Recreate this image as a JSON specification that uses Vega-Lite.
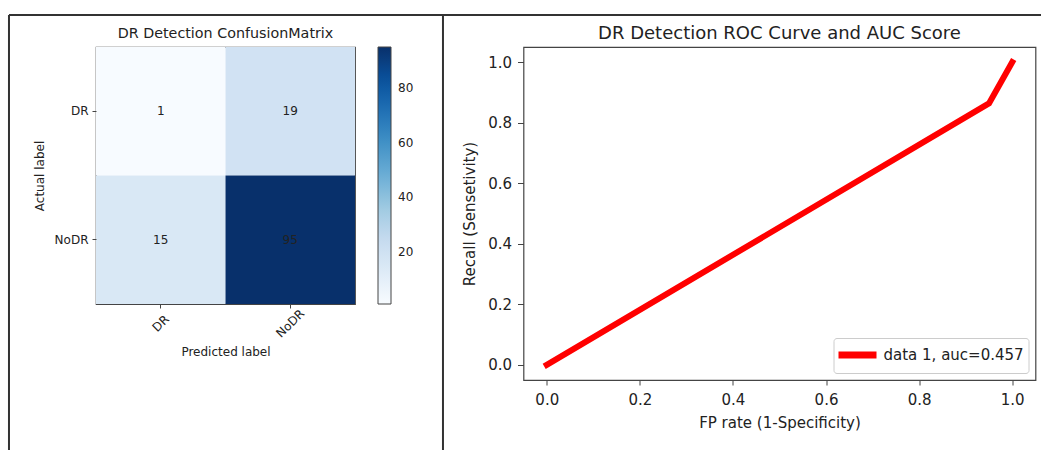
{
  "$schema": "https://vega.github.io/schema/vega-lite/v6.json",
  "background": "white",
  "padding": {"left": 7, "top": 13, "right": 0, "bottom": 0},
  "bounds": "flush",
  "spacing": 168.5,
  "config": {
    "font": "DejaVu Sans",
    "view": {"stroke": "#444", "strokeWidth": 1.2},
    "axis": {
      "domain": false,
      "grid": false,
      "labelColor": "#222",
      "titleColor": "#222",
      "tickColor": "#444",
      "titleFontWeight": "normal"
    },
    "title": {"fontWeight": "normal", "color": "#222"}
  },
  "hconcat": [
    {
      "width": 259,
      "height": 257,
      "title": {"text": "DR Detection ConfusionMatrix", "fontSize": 14.3, "offset": 6},
      "data": {
        "values": [
          {"actual": "DR", "predicted": "DR", "count": 1},
          {"actual": "DR", "predicted": "NoDR", "count": 19},
          {"actual": "NoDR", "predicted": "DR", "count": 15},
          {"actual": "NoDR", "predicted": "NoDR", "count": 95}
        ]
      },
      "encoding": {
        "x": {
          "field": "predicted",
          "type": "nominal",
          "sort": ["DR", "NoDR"],
          "scale": {"paddingInner": 0, "paddingOuter": 0},
          "axis": {
            "title": "Predicted label",
            "labelAngle": -45,
            "labelAlign": "center",
            "labelBaseline": "middle",
            "labelPadding": 15,
            "tickSize": 4,
            "labelFontSize": 12,
            "titleFontSize": 12,
            "titlePadding": 7
          }
        },
        "y": {
          "field": "actual",
          "type": "nominal",
          "sort": ["DR", "NoDR"],
          "scale": {"paddingInner": 0, "paddingOuter": 0},
          "axis": {
            "title": "Actual label",
            "labelAngle": 0,
            "tickSize": 4,
            "labelPadding": 4,
            "labelFontSize": 12,
            "titleFontSize": 12,
            "titlePadding": 8
          }
        }
      },
      "layer": [
        {
          "mark": {"type": "rect"},
          "encoding": {
            "color": {
              "field": "count",
              "type": "quantitative",
              "scale": {
                "domain": [1, 12.75, 24.5, 36.25, 48, 59.75, 71.5, 83.25, 95],
                "range": ["#f7fbff", "#deebf7", "#c6dbef", "#9ecae1", "#6baed6", "#4292c6", "#2171b5", "#08519c", "#08306b"]
              },
              "legend": {
                "title": null,
                "orient": "right",
                "offset": 23,
                "padding": 0,
                "gradientLength": 257,
                "gradientThickness": 13,
                "gradientStrokeColor": "#444",
                "gradientStrokeWidth": 1,
                "values": [20, 40, 60, 80],
                "labelFontSize": 12,
                "labelOffset": 7,
                "labelColor": "#222",
                "labelOverlap": false
              }
            }
          }
        },
        {
          "mark": {"type": "text", "fontSize": 12, "color": "#222"},
          "encoding": {"text": {"field": "count", "type": "quantitative"}}
        }
      ]
    },
    {
      "width": 512,
      "height": 333,
      "title": {"text": "DR Detection ROC Curve and AUC Score", "fontSize": 18, "offset": -29},
      "layer": [
        {
          "data": {
            "values": [
              {"fpr": 0, "tpr": 0, "series": "data 1, auc=0.457"},
              {"fpr": 0.95, "tpr": 0.8636, "series": "data 1, auc=0.457"},
              {"fpr": 1, "tpr": 1, "series": "data 1, auc=0.457"}
            ]
          },
          "mark": {"type": "line", "strokeWidth": 6, "strokeCap": "square", "strokeJoin": "round"},
          "encoding": {
            "x": {
              "field": "fpr",
              "type": "quantitative",
              "scale": {"domain": [-0.05, 1.05], "nice": false, "zero": false},
              "axis": {
                "title": "FP rate (1-Specificity)",
                "values": [0, 0.2, 0.4, 0.6, 0.8, 1.0],
                "format": ".1f",
                "tickSize": 5,
                "labelPadding": 7,
                "labelFontSize": 15,
                "titleFontSize": 15,
                "titlePadding": 8
              }
            },
            "y": {
              "field": "tpr",
              "type": "quantitative",
              "scale": {"domain": [-0.05, 1.05], "nice": false, "zero": false},
              "axis": {
                "title": "Recall (Sensetivity)",
                "values": [0, 0.2, 0.4, 0.6, 0.8, 1.0],
                "format": ".1f",
                "tickSize": 6,
                "labelPadding": 6,
                "labelFontSize": 15,
                "titleFontSize": 15,
                "titlePadding": 10
              }
            },
            "color": {
              "field": "series",
              "type": "nominal",
              "scale": {"range": ["#ff0000"]},
              "legend": {
                "title": null,
                "orient": "bottom-right",
                "offset": 7,
                "padding": 4,
                "symbolType": "M-2,0H2",
                "symbolStrokeWidth": 7,
                "symbolSize": 361,
                "symbolOffset": 7,
                "labelFontSize": 15,
                "labelOffset": 13,
                "labelColor": "#222",
                "strokeColor": "#ccc",
                "fillColor": "white",
                "cornerRadius": 3
              }
            }
          }
        },
        {
          "data": {"values": [{}]},
          "mark": {"type": "rule", "color": "#333", "strokeWidth": 2},
          "encoding": {
            "x": {"datum": -0.223, "type": "quantitative"},
            "y": {"datum": 1.1557, "type": "quantitative"},
            "y2": {"datum": -0.35}
          }
        },
        {
          "data": {"values": [{}]},
          "mark": {"type": "rule", "color": "#333", "strokeWidth": 2},
          "encoding": {
            "x": {"datum": -1.1554, "type": "quantitative"},
            "y": {"datum": 1.1557, "type": "quantitative"},
            "y2": {"datum": -0.35}
          }
        },
        {
          "data": {"values": [{}]},
          "mark": {"type": "rule", "color": "#333", "strokeWidth": 2},
          "encoding": {
            "x": {"datum": -1.1554, "type": "quantitative"},
            "x2": {"datum": 1.1},
            "y": {"datum": 1.1557, "type": "quantitative"}
          }
        }
      ]
    }
  ]
}
